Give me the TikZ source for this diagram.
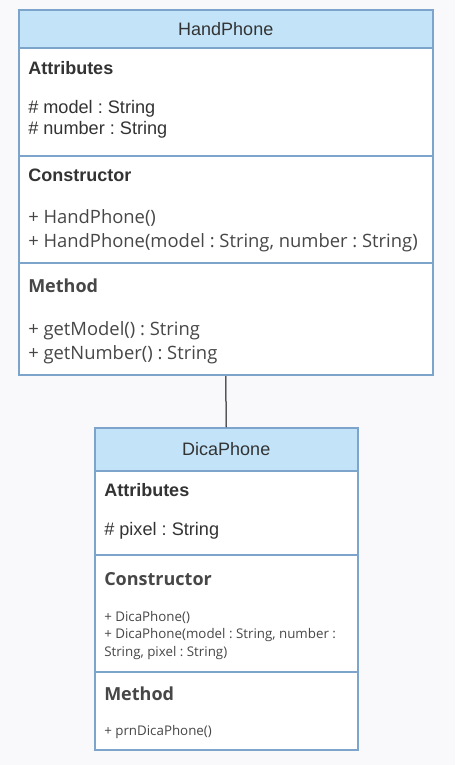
\documentclass[tikz,border=0pt]{standalone}
\usepackage{fontspec}
\setmainfont{Liberation Sans}
\newfontfamily\opensans{Open Sans}
\usetikzlibrary{positioning}

\definecolor{pagebg}{HTML}{F9F9FB}
\definecolor{headfill}{HTML}{C3E4F8}
\definecolor{umlline}{HTML}{7DA5CB}
\definecolor{umltext}{HTML}{333333}

\newcommand{\px}{0.75pt}
\frenchspacing

\tikzset{
    classbox/.style={draw=umlline, fill=white, line width=1.5pt, inner sep=0pt, anchor=north west},
    headbox/.style={classbox, fill=headfill, text=umltext, font=\fontsize{13.5}{16}\selectfont},
    entry/.style={anchor=base west, inner sep=0pt, text=umltext, font=\fontsize{13.6}{16}\selectfont},
    title/.style={entry, font=\fontsize{13.5}{16}\selectfont\bfseries},
    optitle/.style={entry, text=umltext!90, font=\fontsize{13.5}{16}\selectfont\opensans\bfseries},
    opentry/.style={entry, text=umltext!90, font=\fontsize{13.8}{16}\selectfont\opensans},
    smallentry/.style={entry, text=umltext!90, font=\fontsize{10}{12}\selectfont\opensans}
}

\begin{document}
\begin{tikzpicture}[x=0.75pt, y=-0.75pt]
    \fill[pagebg] (0, 0) rectangle (455, 765);
    \useasboundingbox (0, 0) rectangle (455, 765);

    \node[classbox, minimum width=414.5*\px, minimum height=108*\px] (handattr) at (17.5, 47) {};
    \node[classbox, minimum width=414.5*\px, minimum height=107*\px] (handctor) at (17.5, 155) {};
    \node[classbox, minimum width=414.5*\px, minimum height=112*\px] (handmeth) at (17.5, 262) {};
    \node[headbox, minimum width=414.5*\px, minimum height=38*\px] (handhead) at (17.5, 9) {HandPhone};

    \node[classbox, minimum width=263.5*\px, minimum height=84*\px] (dicaattr) at (93.5, 470) {};
    \node[classbox, minimum width=263.5*\px, minimum height=117*\px] (dicactor) at (93.5, 554) {};
    \node[classbox, minimum width=263.5*\px, minimum height=78*\px] (dicameth) at (93.5, 671) {};
    \node[headbox, minimum width=263.5*\px, minimum height=43*\px] (dicahead) at (93.5, 427) {DicaPhone};

    \draw[line width=0.75pt] (handmeth.south) -- (dicahead.north);

    \node[title] (ha) at (28, 74) {Attributes};
    \node[entry] (ha1) at (28, 113) {\# model : String};
    \node[entry] (ha2) at (28, 134.5) {\# number : String};
    \node[title] (hc) at (28, 181.7) {Constructor};
    \node[opentry] (hc1) at (28, 223.3) {+ HandPhone()};
    \node[opentry] (hc2) at (28, 247.7) {+ HandPhone(model : String, number : String)};
    \node[optitle] (hm) at (28, 292.7) {Method};
    \node[opentry] (hm1) at (28, 335) {+ getModel() : String};
    \node[opentry] (hm2) at (28, 359.3) {+ getNumber() : String};

    \node[title] (da) at (104, 496) {Attributes};
    \node[entry] (da1) at (104, 535) {\# pixel : String};
    \node[optitle] (dc) at (104, 585) {Constructor};
    \node[smallentry] (dc1) at (104, 621) {+ DicaPhone()};
    \node[smallentry] (dc2) at (104, 638.5) {+ DicaPhone(model : String, number :};
    \node[smallentry] (dc3) at (104, 656) {String, pixel : String)};
    \node[optitle] (dm) at (104, 700) {Method};
    \node[smallentry] (dm1) at (104, 735.7) {+ prnDicaPhone()};
\end{tikzpicture}
\end{document}
